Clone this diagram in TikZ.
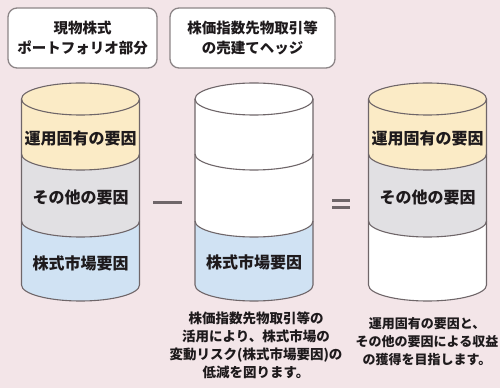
\documentclass[tikz,border=0pt]{standalone}
\usepackage{fontspec}
\newfontfamily\jpfont{Noto Sans CJK JP}
\usepackage{tikz}
\usetikzlibrary{positioning}

\definecolor{bgpink}{HTML}{F3E5E8}
\definecolor{ownbeige}{HTML}{FBEBC6}
\definecolor{othergray}{HTML}{E1E0E3}
\definecolor{mktblue}{HTML}{D0E2F3}
\definecolor{cylgray}{HTML}{6F6669}
\definecolor{txtdark}{HTML}{1E1A1C}

% filled part of a cylinder above a boundary: centre x, boundary y, colour
\newcommand{\cylfill}[3]{%
  \fill[#3] (#1-59,289) -- (#1-59,#2) arc[start angle=180, end angle=360, x radius=59, y radius=16]
    -- (#1+59,289) arc[start angle=0, end angle=180, x radius=59, y radius=16] -- cycle;}
% outline of a cylinder with its two band lines: centre x
\newcommand{\cyloutline}[1]{%
  \draw[cylline] (#1-59,289) -- (#1-59,103) arc[start angle=180, end angle=360, x radius=59, y radius=16] -- (#1+59,289);
  \draw[cylline] (#1,289) ellipse[x radius=59, y radius=16];
  \draw[cylline] (#1-59,234) arc[start angle=180, end angle=360, x radius=59, y radius=16];
  \draw[cylline] (#1-59,167) arc[start angle=180, end angle=360, x radius=59, y radius=16];}

\begin{document}
\begin{tikzpicture}[x=1pt, y=1pt,
        every node/.style={font=\jpfont\bfseries, text=txtdark},
        headbox/.style={draw=cylgray!80, line width=1.3pt, rounded corners=9pt, fill=white,
            minimum height=60pt, align=center, font=\jpfont\bfseries\fontsize{14.5}{20}\selectfont},
        bandtext/.style={font=\jpfont\bfseries\fontsize{16}{18}\selectfont, inner sep=0pt},
        notetext/.style={align=center, font=\jpfont\bfseries\fontsize{13}{18}\selectfont, inner sep=0pt},
        cylline/.style={draw=cylgray, line width=1.1pt},
        signline/.style={draw=cylgray, line width=3pt}]
      % Background
      \fill[bgpink] (0,0) rectangle (500,388);
      \useasboundingbox (0,0) rectangle (500,388);

      % Header boxes
      \node[headbox, minimum width=149pt] (spotbox) at (82.5,350) {現物株式\\ポートフォリオ部分};
      \node[headbox, minimum width=165pt] (hedgebox) at (252.5,350) {株価指数先物取引等\\の売建てヘッジ};

      % Spot portfolio cylinder
      \cylfill{80.5}{103}{mktblue}
      \cylfill{80.5}{167}{othergray}
      \cylfill{80.5}{234}{ownbeige}
      \cyloutline{80.5}
      \node[bandtext] (spotown) at (80.5,250) {運用固有の要因};
      \node[bandtext] (spotother) at (80.5,191) {その他の要因};
      \node[bandtext] (spotmkt) at (80.5,125) {株式市場要因};

      % Hedge cylinder
      \cylfill{254}{103}{mktblue}
      \cylfill{254}{167}{white}
      \cyloutline{254}
      \node[bandtext] (hedgemkt) at (254,126) {株式市場要因};

      % Result cylinder
      \cylfill{427.5}{103}{white}
      \cylfill{427.5}{167}{othergray}
      \cylfill{427.5}{234}{ownbeige}
      \cyloutline{427.5}
      \node[bandtext] (resown) at (427.5,250) {運用固有の要因};
      \node[bandtext] (resother) at (427.5,191) {その他の要因};

      % Minus and equal signs
      \draw[signline] (153,185) -- (182,185);
      \draw[signline] (332,187) -- (350,187);
      \draw[signline] (332,180) -- (350,180);

      % Notes below
      \node[notetext, font=\jpfont\bfseries\fontsize{13.5}{18}\selectfont] (hedgenote) at (256,43) {株価指数先物取引等の\\活用により、株式市場の\\変動リスク(株式市場要因)の\\低減を図ります。};
      \node[notetext] (resnote) at (427,46) {運用固有の要因と、\\その他の要因による収益\\の獲得を目指します。};
    \end{tikzpicture}
\end{document}
